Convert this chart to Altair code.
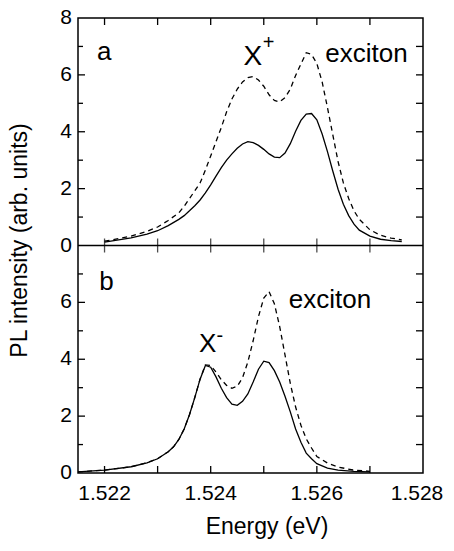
import altair as alt
import pandas as pd

FONT = "Liberation Sans"

# ---------------- panel a data (upper panel) ----------------
a_energy = [1.5220, 1.5225, 1.5228, 1.5230, 1.5232, 1.5234, 1.5235, 1.5236, 1.5237, 1.5238,
            1.5239, 1.5240, 1.5241, 1.5242, 1.5243, 1.5244, 1.5245, 1.5246, 1.5247, 1.5248,
            1.5249, 1.5250, 1.5251, 1.5252, 1.5253, 1.5254, 1.5255, 1.5256, 1.5257, 1.5258,
            1.5259, 1.5260, 1.5261, 1.5262, 1.5263, 1.5264, 1.5265, 1.5266, 1.5267, 1.5268,
            1.5270, 1.5272, 1.5274, 1.5276]
a_solid = [0.12, 0.27, 0.40, 0.52, 0.70, 0.92, 1.05, 1.22, 1.40, 1.60,
           1.85, 2.13, 2.44, 2.74, 3.00, 3.22, 3.42, 3.57, 3.65, 3.62,
           3.52, 3.38, 3.22, 3.11, 3.09, 3.25, 3.58, 4.02, 4.40, 4.62,
           4.64, 4.42, 3.92, 3.30, 2.62, 1.98, 1.45, 1.05, 0.75, 0.54,
           0.33, 0.22, 0.17, 0.14]
a_dashed = [0.15, 0.33, 0.50, 0.65, 0.88, 1.15, 1.38, 1.65, 1.92, 2.20,
            2.65, 3.15, 3.65, 4.15, 4.70, 5.15, 5.50, 5.75, 5.90, 5.94,
            5.82, 5.60, 5.30, 5.10, 5.05, 5.20, 5.50, 5.98, 6.38, 6.78,
            6.72, 6.40, 5.75, 4.85, 3.90, 2.95, 2.20, 1.65, 1.22, 0.92,
            0.55, 0.36, 0.26, 0.20]

# ---------------- panel b data (lower panel) ----------------
b_energy = [1.5215, 1.5220, 1.5225, 1.5228, 1.5230, 1.5232, 1.5233, 1.5234, 1.5235, 1.5236,
            1.5237, 1.5238, 1.5239, 1.5240, 1.5241, 1.5242, 1.5243, 1.5244, 1.5245, 1.5246,
            1.5247, 1.5248, 1.5249, 1.5250, 1.5251, 1.5252, 1.5253, 1.5254, 1.5255, 1.5256,
            1.5257, 1.5258, 1.5259, 1.5260, 1.5262, 1.5264, 1.5267, 1.5270]
b_solid = [0.04, 0.10, 0.22, 0.36, 0.50, 0.75, 0.92, 1.18, 1.55, 2.05,
           2.65, 3.30, 3.78, 3.72, 3.38, 2.98, 2.65, 2.42, 2.38, 2.52,
           2.78, 3.20, 3.65, 3.93, 3.88, 3.60, 3.20, 2.70, 2.15, 1.55,
           1.08, 0.70, 0.50, 0.33, 0.17, 0.10, 0.06, 0.04]
b_dashed = [0.04, 0.10, 0.22, 0.36, 0.50, 0.75, 0.92, 1.18, 1.55, 2.05,
            2.65, 3.30, 3.80, 3.78, 3.55, 3.28, 3.08, 2.98, 3.05, 3.35,
            3.90, 4.65, 5.50, 6.15, 6.38, 5.95, 5.15, 4.15, 3.15, 2.32,
            1.68, 1.20, 0.88, 0.58, 0.35, 0.21, 0.10, 0.06]

# ---------------- axes / ticks ----------------
PANEL_SPAN = 8            # each panel spans 0..8; panel a sits on top of panel b
x_domain = [1.5215, 1.528]
x_tick_values = [1.522, 1.523, 1.524, 1.525, 1.526, 1.527]
x_label_values = [1.522, 1.524, 1.526]
x_edge_label_values = [1.528]
y_major_values = [2, 4, 6]
y_minor_values = [1, 3, 5, 7]
y_right_values = [1, 2, 3, 4, 5, 6, 7]
a_y_labels = [0, 2, 4, 6, 8]
b_y_labels = [0, 2, 4, 6]
x_title = "Energy (eV)"
y_title = "PL intensity (arb. units)"

# ---------------- annotations (panel coordinates) ----------------
a_text = ["a", "exciton"]
a_text_x = [1.52186, 1.52616]
a_text_y = [6.54, 6.47]
a_big = ["X"]
a_big_x = [1.52462]
a_big_y = [6.36]
a_sup = ["+"]
a_sup_x = [1.52498]
a_sup_y = [6.9]

b_text = ["b", "exciton"]
b_text_x = [1.52190, 1.52547]
b_text_y = [6.44, 5.8]
b_big = ["X"]
b_big_x = [1.52378]
b_big_y = [4.25]
b_sup = ["-"]
b_sup_x = [1.52411]
b_sup_y = [4.62]

W = 345
H = 455
TL = 7   # major tick length (px)
ML = 5   # minor tick length (px)
LABEL_SIZE = 21


def up(vals):
    return [v + PANEL_SPAN for v in vals]


xscale = alt.Scale(domain=x_domain, nice=False, zero=False)
yscale = alt.Scale(domain=[0, 2 * PANEL_SPAN], nice=False, zero=False)


def X():
    return alt.X("E:Q", scale=xscale, axis=None)


def Y():
    return alt.Y("v:Q", scale=yscale, axis=None)


def line(energy, vals, dashed):
    d = pd.DataFrame({"E": energy, "v": vals})
    kw = dict(color="black", strokeWidth=1.3)
    if dashed:
        kw["strokeDash"] = [5, 4]
    return alt.Chart(d).mark_line(**kw).encode(x=X(), y=Y())


def texts(t, x, y, size):
    d = pd.DataFrame({"E": x, "v": y, "t": t})
    return alt.Chart(d).mark_text(font=FONT, fontSize=size, align="left",
                                  baseline="alphabetic", color="black").encode(
        x=X(), y=Y(), text="t:N")


RULE = dict(color="black", strokeWidth=1.3)


def hticks(vals, x0, x1):
    d = pd.DataFrame({"v": vals})
    return alt.Chart(d).mark_rule(**RULE).encode(y=Y(), x=alt.value(x0), x2=alt.value(x1))


def vticks(y0, y1):
    d = pd.DataFrame({"E": x_tick_values})
    return alt.Chart(d).mark_rule(**RULE).encode(x=X(), y=alt.value(y0), y2=alt.value(y1))


# separator between the two panels (y = 0 of panel a) and its crossing ticks
sep = alt.Chart(pd.DataFrame({"v": [PANEL_SPAN]})).mark_rule(color="black", strokeWidth=1.5).encode(
    y=Y())
mid_ticks = alt.Chart(pd.DataFrame({"E": x_tick_values})).transform_calculate(
    v=str(PANEL_SPAN)).mark_tick(color="black", thickness=1.3, size=2 * TL,
                                 orient="vertical").encode(x=X(), y=Y())

# tick labels drawn as text through the scales
ylab_df = pd.DataFrame({"v": b_y_labels + up(a_y_labels),
                        "t": [str(v) for v in b_y_labels] + [str(v) for v in a_y_labels]})
ylabels = alt.Chart(ylab_df).mark_text(font=FONT, fontSize=LABEL_SIZE, align="right",
                                       baseline="middle", color="black").encode(
    y=Y(), x=alt.value(-6), text="t:N")


def xlabel_layer(vals, dx):
    d = pd.DataFrame({"E": vals, "t": [f"{v:.3f}" for v in vals]})
    return alt.Chart(d).mark_text(font=FONT, fontSize=LABEL_SIZE, align="center",
                                  baseline="top", color="black", dx=dx).encode(
        x=X(), y=alt.value(H + 10), text="t:N")


xtitle = alt.Chart(pd.DataFrame({"t": [x_title]})).mark_text(
    font=FONT, fontSize=23, align="center", baseline="alphabetic", color="black").encode(
    x=alt.value(189), y=alt.value(H + 61), text="t:N")
ytitle = alt.Chart(pd.DataFrame({"t": [y_title]})).mark_text(
    font=FONT, fontSize=23, angle=270, align="center", baseline="middle", color="black").encode(
    x=alt.value(-58), y=alt.value(H / 2 - 5), text="t:N")

layers = [
    line(b_energy, b_dashed, True),
    line(b_energy, b_solid, False),
    line(a_energy, up(a_dashed), True),
    line(a_energy, up(a_solid), False),
    hticks(y_major_values + up(y_major_values), 0, TL),
    hticks(y_minor_values + up(y_minor_values), 0, ML),
    hticks(y_right_values + up(y_right_values), W - TL, W),
    vticks(0, TL),
    vticks(H - TL, H),
    sep,
    mid_ticks,
    texts(a_text, a_text_x, up(a_text_y), 26),
    texts(a_big, a_big_x, up(a_big_y), 28),
    texts(a_sup, a_sup_x, up(a_sup_y), 20),
    texts(b_text, b_text_x, b_text_y, 26),
    texts(b_big, b_big_x, b_big_y, 26),
    texts(b_sup, b_sup_x, b_sup_y, 20),
    ylabels,
    xlabel_layer(x_label_values, 0),
    xlabel_layer(x_edge_label_values, -6),
    xtitle,
    ytitle,
]

chart = alt.layer(*layers).properties(
    width=W, height=H, padding={"top": -1, "left": 1, "right": 0, "bottom": 0},
    background="white"
).configure_view(stroke="black", strokeWidth=1.5)

chart.save("out.html", embed_options={"renderer": "svg", "actions": False})
